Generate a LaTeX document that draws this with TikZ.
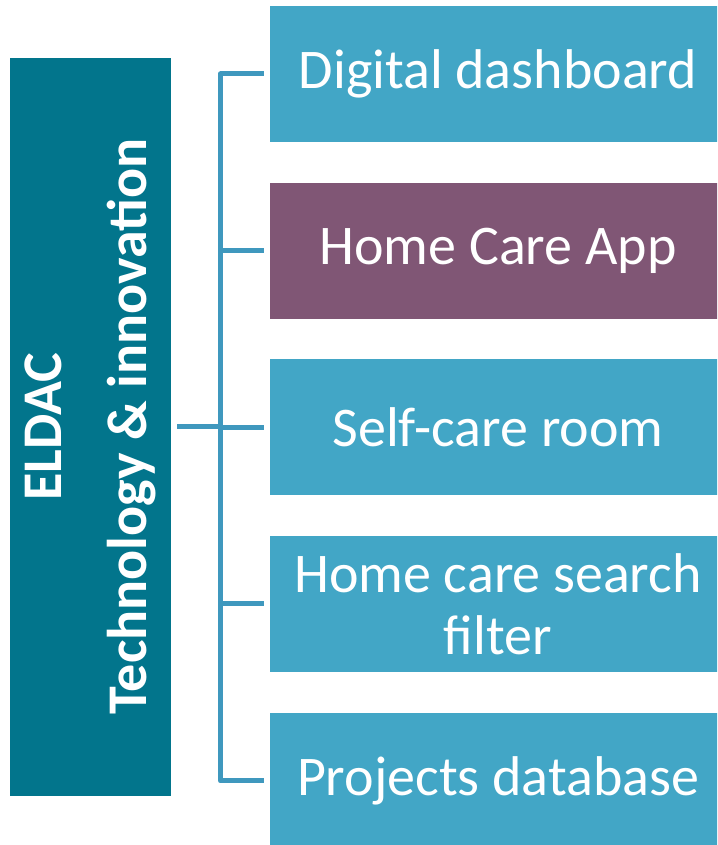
\documentclass[tikz,border=0pt]{standalone}
\usepackage{fontspec}
\setmainfont{Carlito}
\usepackage{tikz}
\usetikzlibrary{positioning}
\definecolor{eldacTeal}{HTML}{02758C}
\definecolor{itemBlue}{HTML}{42A6C6}
\definecolor{itemPlum}{HTML}{805675}
\definecolor{linkBlue}{HTML}{3F98BE}

\begin{document}
\begin{tikzpicture}[
    x=1pt, y=1pt,
    % styles
    root box/.style={fill=eldacTeal, minimum width=161pt, minimum height=738pt, inner sep=0pt},
    root text/.style={rotate=90, text=white, font=\fontsize{56}{85}\selectfont\bfseries, align=center},
    item box/.style={fill=itemBlue, text=white, minimum width=456pt, minimum height=136pt,
        inner sep=0pt, font=\fontsize{56}{62}\selectfont, align=center},
    hot box/.style={item box, fill=itemPlum},
    link/.style={draw=linkBlue, line width=5pt, line join=round, shorten <=6pt, shorten >=6pt}
]
    \useasboundingbox (0,0) rectangle (717,845);
    \clip (0,0) rectangle (717,845);

    % --- root ---
    \node[root box] (root) at (90.5,418) {};
    \node[root text] (root-text) at (root.center) {ELDAC\\Technology \& innovation};

    % --- items ---
    \foreach \name/\y/\kind/\txt in {1/771/item box/Digital dashboard,
                                      2/594/hot box/Home Care App,
                                      3/417.5/item box/Self-care room,
                                      4/241/item box/{Home care search\\filter},
                                      5/64/item box/Projects database}
        \node[\kind] (B-\name) at (498,\y) {\txt};

    % --- connectors ---
    \coordinate (trunk) at (220.5,418);
    \draw[link] (B-1.west) -- (B-1.west -| trunk) -- (B-5.west -| trunk) -- (B-5.west);
    \foreach \name in {2,3,4}
        \draw[link, shorten <=0pt] (B-\name.west -| trunk) -- (B-\name.west);
    \draw[link, shorten >=0pt] (root.east) -- (trunk);

\end{tikzpicture}
\end{document}
